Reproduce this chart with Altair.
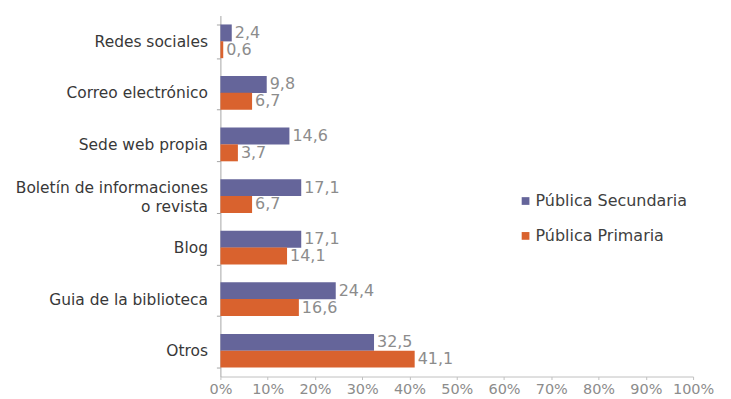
import altair as alt
import pandas as pd

categories = ["Redes sociales", "Correo electrónico", "Sede web propia",
              "Boletín de informaciones|o revista", "Blog",
              "Guia de la biblioteca", "Otros"]
series = ["Pública Secundaria", "Pública Primaria"]
secundaria = [2.4, 9.8, 14.6, 17.1, 17.1, 24.4, 32.5]
primaria = [0.6, 6.7, 3.7, 6.7, 14.1, 16.6, 41.1]
colors = ["#65659a", "#d9622e"]

rows = []
for c, s, p in zip(categories, secundaria, primaria):
    rows.append({"cat": c, "serie": series[0], "value": s})
    rows.append({"cat": c, "serie": series[1], "value": p})
df = pd.DataFrame(rows)

font = "DejaVu Sans"
two_line = categories[3]

y_enc = alt.Y("cat:N", sort=categories, title=None,
              scale=alt.Scale(paddingInner=0.35, paddingOuter=0.175),
              axis=alt.Axis(labelExpr="split(datum.label, '|')", labelFont=font,
                            labelFontSize=15.5, labelColor="#383838", labelPadding=9,
                            labelLimit=0,
                            labelOffset={"condition": {"test": f"datum.value === '{two_line}'",
                                                       "value": -9}, "value": 0},
                            tickBand="extent", tickSize=4, tickColor="#a6a6a6",
                            domainColor="#a6a6a6", labelLineHeight=20))
x_enc = alt.X("value:Q", title=None,
              scale=alt.Scale(domain=[0, 100], nice=False),
              axis=alt.Axis(values=list(range(0, 101, 10)), labelExpr="datum.value + '%'",
                            grid=False, labelFont=font, labelFontSize=14.5,
                            labelColor="#8c8c8c", tickSize=3, tickColor="#c0c0c0",
                            domainColor="#c0c0c0", labelPadding=3,
                            labelOverlap=False, labelFlush=False))
yoff = alt.YOffset("serie:N", sort=series, scale=alt.Scale(paddingInner=0, paddingOuter=0))

bars = alt.Chart(df).mark_bar(size=17).encode(
    y=y_enc, x=x_enc, yOffset=yoff,
    color=alt.Color("serie:N", sort=series, title=None,
                    scale=alt.Scale(domain=series, range=colors),
                    legend=alt.Legend(orient="none", legendX=298, legendY=178,
                                      symbolType="square", symbolSize=60,
                                      labelFont=font, labelFontSize=16,
                                      labelColor="#404040", rowPadding=19,
                                      symbolStrokeWidth=0, labelOffset=2)),
)

labels = alt.Chart(df).transform_calculate(
    lab="replace(format(datum.value, '.1f'), '.', ',')"
).mark_text(align="left", baseline="middle", dx=3, font=font, fontSize=16,
            color="#8c8c8c").encode(
    y=alt.Y("cat:N", sort=categories), x="value:Q", yOffset=yoff, text="lab:N")

chart = alt.layer(bars, labels).properties(
    width=474, height=362, autosize="none",
    padding={"left": 213, "top": 7, "right": 30, "bottom": 24}
).configure(background="white").configure_view(stroke=None)

chart.save("out.html", embed_options={"renderer": "svg", "actions": False})
